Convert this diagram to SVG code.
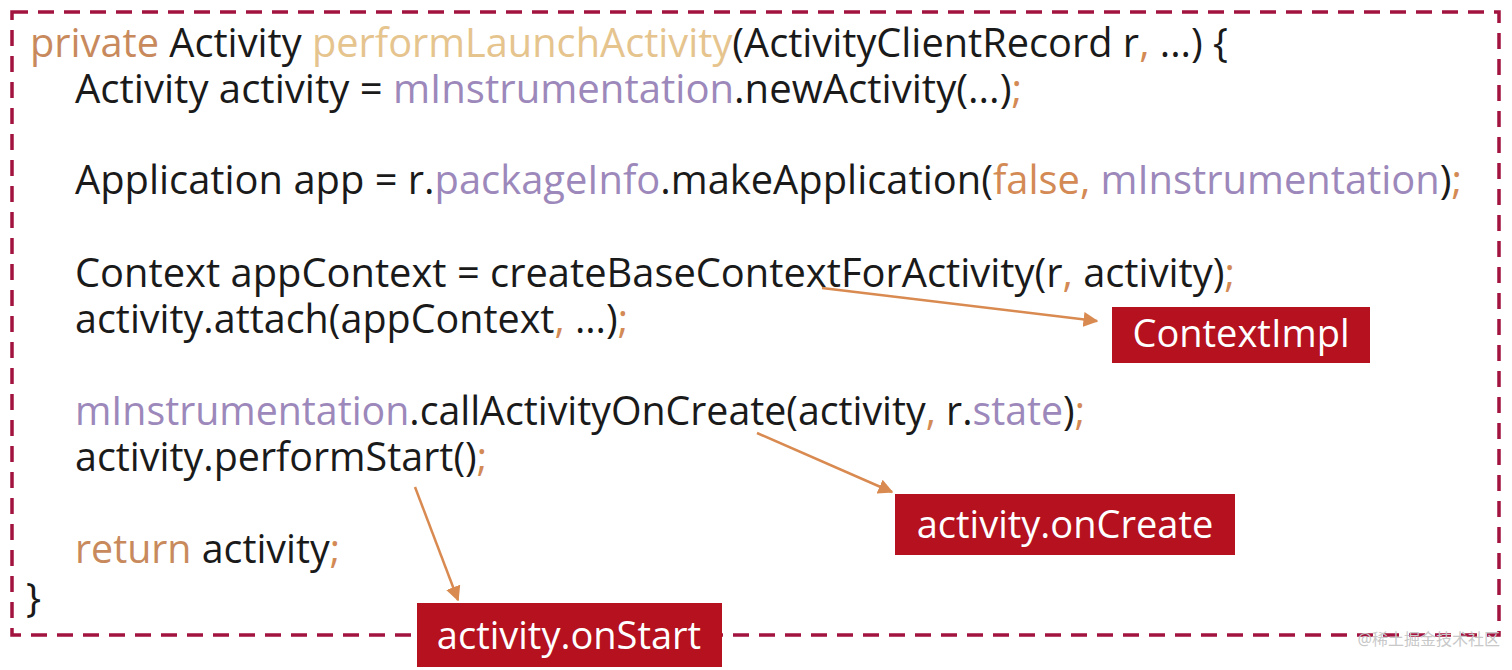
<svg xmlns="http://www.w3.org/2000/svg" width="1512" height="670" viewBox="0 0 1512 670">
<style>
.c{font-family:"Open Sans","Noto Sans","Liberation Sans",sans-serif;font-size:40px;fill:#1a1a1a}
.k{fill:#c88a5c}.m{fill:#e6c48e}.p{fill:#9c88ba}.o{fill:#d38a55}
.box{fill:#b5111f}
.bt{font-family:"Open Sans","Noto Sans","Liberation Sans",sans-serif;font-size:38px;fill:#fff}
.arr{stroke:#d98a50;stroke-width:2.5;fill:none;marker-end:url(#ah)}
</style>
<defs><marker id="ah" viewBox="0 0 10 10" refX="9" refY="5" markerWidth="6" markerHeight="6" orient="auto"><path d="M0,0L10,5L0,10z" fill="#d98a50"/></marker></defs>
<rect width="1512" height="670" fill="#fff"/>
<rect x="12" y="12" width="1487" height="623" fill="none" stroke="#a3133f" stroke-width="3.5" stroke-dasharray="16,10"/>
<g id="code">
<text class="c" x="30" y="57" textLength="1198" lengthAdjust="spacingAndGlyphs"><tspan class="k">private</tspan> Activity <tspan class="m">performLaunchActivity</tspan>(ActivityClientRecord r<tspan class="o">,</tspan> ...) {</text>
<text class="c" x="75" y="103" textLength="947" lengthAdjust="spacingAndGlyphs">Activity activity = <tspan class="p">mInstrumentation</tspan>.newActivity(...)<tspan class="o">;</tspan></text>
<text class="c" x="75" y="194" textLength="1387" lengthAdjust="spacingAndGlyphs">Application app = r.<tspan class="p">packageInfo</tspan>.makeApplication(<tspan class="o">false,</tspan> <tspan class="p">mInstrumentation</tspan>)<tspan class="o">;</tspan></text>
<text class="c" x="75" y="287" textLength="1160" lengthAdjust="spacingAndGlyphs">Context appContext = createBaseContextForActivity(r<tspan class="o">,</tspan> activity)<tspan class="o">;</tspan></text>
<text class="c" x="75" y="333" textLength="553" lengthAdjust="spacingAndGlyphs">activity.attach(appContext<tspan class="o">,</tspan> ...)<tspan class="o">;</tspan></text>
<text class="c" x="75" y="425" textLength="1010" lengthAdjust="spacingAndGlyphs"><tspan class="p">mInstrumentation</tspan>.callActivityOnCreate(activity<tspan class="o">,</tspan> r.<tspan class="p">state</tspan>)<tspan class="o">;</tspan></text>
<text class="c" x="75" y="471" textLength="412" lengthAdjust="spacingAndGlyphs">activity.performStart()<tspan class="o">;</tspan></text>
<text class="c" x="75" y="563" textLength="265" lengthAdjust="spacingAndGlyphs"><tspan class="k">return</tspan> activity<tspan class="o">;</tspan></text>
<text class="c" x="26" y="612">}</text>
</g>
<g id="connectors">
<line class="arr" x1="822" y1="288" x2="1097" y2="321"/>
<line class="arr" x1="757" y1="433" x2="892" y2="492"/>
<line class="arr" x1="415" y1="487" x2="458" y2="600"/>
</g>
<g id="n-contextimpl"><rect class="box" x="1112" y="307" width="258" height="56"/><text class="bt" x="1241" y="347" text-anchor="middle">ContextImpl</text></g>
<g id="n-oncreate"><rect class="box" x="895" y="494" width="340" height="61"/><text class="bt" x="1065" y="538" text-anchor="middle">activity.onCreate</text></g>
<g id="n-onstart"><rect class="box" x="417" y="603" width="305" height="64"/><text class="bt" x="569" y="649" text-anchor="middle">activity.onStart</text></g>
<text x="1500" y="645" text-anchor="end" font-family="'Noto Sans','Noto Sans CJK SC',sans-serif" font-size="16" fill="#c8c8c8">@稀土掘金技术社区</text>
</svg>
